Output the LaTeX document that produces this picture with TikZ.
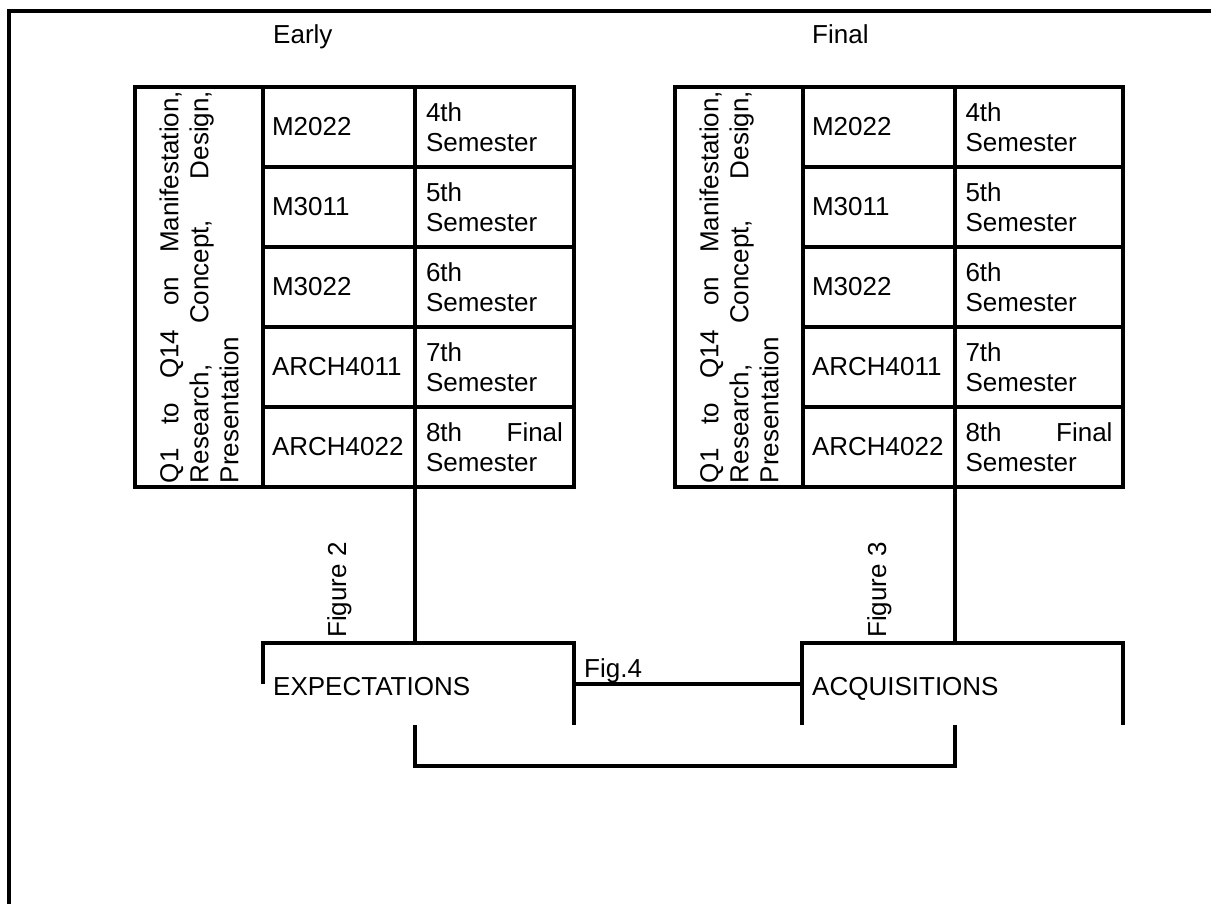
\documentclass[tikz,border=0pt]{standalone}
\usepackage{fontspec}
\setmainfont{Liberation Sans}
\begin{document}
\begin{tikzpicture}[x=1pt,y=-1pt,
  every node/.append style={font=\fontsize{26pt}{30pt}\selectfont},
  cell/.style={draw, line width=3.5pt, inner sep=0pt, outer sep=0pt, anchor=north west, minimum height=80pt},
  colA/.style={cell, minimum width=128pt, minimum height=400pt},
  colB/.style={cell, text width=134pt, inner xsep=9pt, align=left},
  colC/.style={cell, text width=137pt, inner xsep=11pt, align=left},
  colCr/.style={cell, text width=147pt, inner xsep=10.5pt, align=left},
  boxarea/.style={inner sep=0pt, outer sep=0pt, anchor=north west, minimum height=82pt},
  conn/.style={line width=3.5pt},
  lbl/.style={inner sep=0pt, anchor=base west}]
\useasboundingbox (0,0) rectangle (1211,903);

% frame (top and left edges)
\draw[line width=4pt] (1220,11) -- (9,11) -- (9,915);

% headers
\node[lbl] (early) at (273,43) {Early};
\node[lbl] (final) at (812,43) {Final};

% ---- left table ----
\node[colA] (LA) at (135,87) {};
\node[rotate=90, inner sep=0pt, align=left] (LAt) at (LA.center)
  {\hbox to 392pt{Q1\hfill to\hfill Q14\hfill on\hfill Manifestation,}\\
   \hbox to 392pt{Research,\hfill Concept,\hfill Design,}\\
   Presentation};
\node[colB] (LB1) at (263,87)  {M2022};
\node[colB] (LB2) at (263,167) {M3011};
\node[colB] (LB3) at (263,247) {M3022};
\node[colB] (LB4) at (263,327) {ARCH4011};
\node[colB] (LB5) at (263,407) {ARCH4022};
\node[colC] (LC1) at (415,87)  {4th\\Semester};
\node[colC] (LC2) at (415,167) {5th\\Semester};
\node[colC] (LC3) at (415,247) {6th\\Semester};
\node[colC] (LC4) at (415,327) {7th\\Semester};
\node[colC] (LC5) at (415,407) {\hbox to 137pt{8th\hfill Final}\\Semester};

% ---- right table ----
\node[colA] (RA) at (675,87) {};
\node[rotate=90, inner sep=0pt, align=left] (RAt) at (RA.center)
  {\hbox to 392pt{Q1\hfill to\hfill Q14\hfill on\hfill Manifestation,}\\
   \hbox to 392pt{Research,\hfill Concept,\hfill Design,}\\
   Presentation};
\node[colB] (RB1) at (803,87)  {M2022};
\node[colB] (RB2) at (803,167) {M3011};
\node[colB] (RB3) at (803,247) {M3022};
\node[colB] (RB4) at (803,327) {ARCH4011};
\node[colB] (RB5) at (803,407) {ARCH4022};
\node[colCr] (RC1) at (955,87)  {4th\\Semester};
\node[colCr] (RC2) at (955,167) {5th\\Semester};
\node[colCr] (RC3) at (955,247) {6th\\Semester};
\node[colCr] (RC4) at (955,327) {7th\\Semester};
\node[colCr] (RC5) at (955,407) {\hbox to 147pt{8th\hfill Final}\\Semester};

% ---- lower boxes ----
\node[boxarea, minimum width=311pt] (exp) at (263,643) {};
\node[boxarea, minimum width=321pt] (acq) at (802,643) {};
\draw[conn] (exp.west) -- (exp.north west) -- (exp.north east) -- (exp.south east);
\draw[conn] (acq.south west) -- (acq.north west) -- (acq.north east) -- (acq.south east);
\node[lbl] (expt) at (273,695) {EXPECTATIONS};
\node[lbl] (acqt) at (812,695) {ACQUISITIONS};

% labels
\node[lbl, rotate=90] (fig2) at (346,638) {Figure 2};
\node[lbl, rotate=90] (fig3) at (886,638) {Figure 3};
\node[lbl] (fig4) at (584,677) {Fig.4};

% connectors
\coordinate (brk) at (0,766);
\draw[conn] (LC5.south west) -- (LC5.south west |- exp.north);
\draw[conn] (RC5.south west) -- (RC5.south west |- acq.north);
\draw[conn] (exp.east) -- (acq.west);
\draw[conn] (LC5.south west |- exp.south) -- (LC5.south west |- brk)
  -- (RC5.south west |- brk) -- (RC5.south west |- acq.south);
\end{tikzpicture}
\end{document}
